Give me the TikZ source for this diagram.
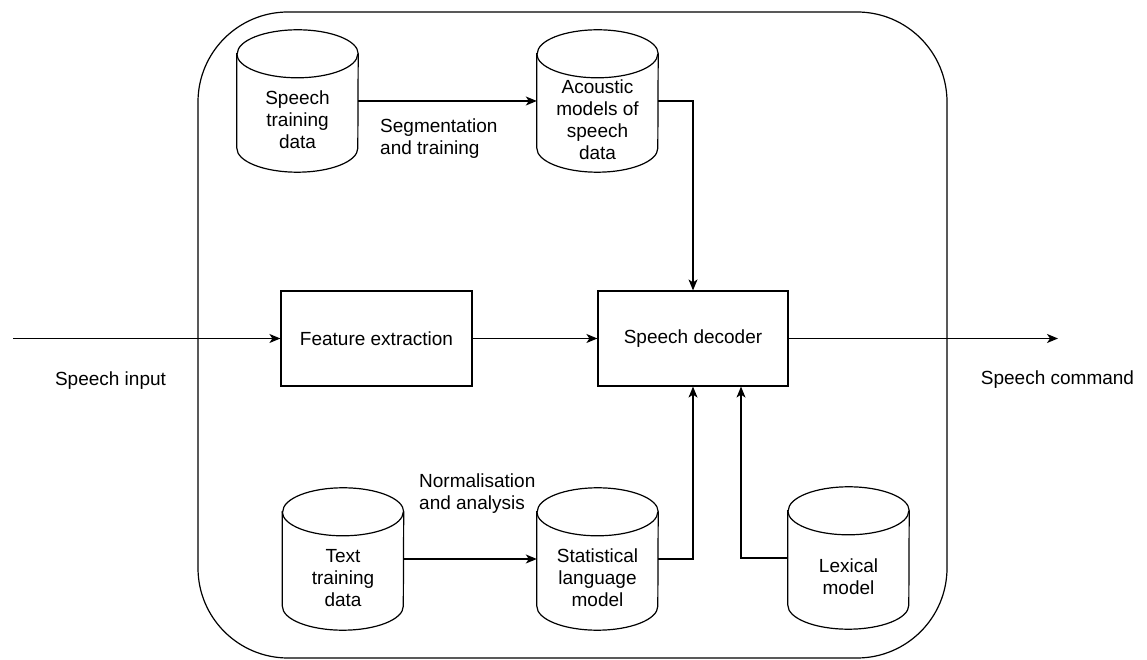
\documentclass[tikz,border=0pt]{standalone}
\usepackage{fontspec}
\setmainfont{Liberation Sans}
\usetikzlibrary{arrows.meta,calc}
\tikzset{
  ln/.style={line width=1.2pt, draw=black},
  arr/.style={ln, -{Stealth[length=11pt,width=9pt,inset=3pt]}},
  box/.style={ln, rectangle, minimum width=191pt, minimum height=95pt, font=\fontsize{19}{22}\selectfont, inner sep=0pt},
  cylspace/.style={rectangle, minimum width=121pt, minimum height=142pt, inner sep=0pt, draw=none},
  lbl/.style={font=\fontsize{19}{22}\selectfont, align=center, inner sep=0pt},
  lbll/.style={lbl, align=left},
}
\newcommand{\drawcyl}[1]{%
  \draw[ln, fill=white] ($(#1.north west)+(0,-24)$) -- ($(#1.south west)+(0,24)$)
     arc[start angle=180,end angle=360,x radius=60.5pt,y radius=24pt]
     -- ($(#1.north east)+(0,-24)$)
     arc[start angle=0,end angle=180,x radius=60.5pt,y radius=24pt] -- cycle;
  \draw[ln] ($(#1.north west)+(0,-24)$) arc[start angle=180,end angle=360,x radius=60.5pt,y radius=24pt];
}
\begin{document}
\begin{tikzpicture}[x=1pt,y=1pt]
\useasboundingbox (0,0) rectangle (1147,660);
\node[ln, rounded corners=90pt, minimum width=749pt, minimum height=646pt, inner sep=0pt] (frame) at (572.5,325) {};

\node[box] (fe) at (376.5,321.5) {Feature extraction};
\node[box, minimum width=190pt] (dec) at (693,321.5) {Speech decoder};

\node[cylspace] (st) at (297.5,559) {};
\node[cylspace] (ac) at (597.5,559) {};
\node[cylspace] (tt) at (343,101) {};
\node[cylspace] (sl) at (597.5,101) {};
\node[cylspace] (lx) at (848.5,102) {};
\drawcyl{st}
\drawcyl{ac}
\drawcyl{tt}
\drawcyl{sl}
\drawcyl{lx}

\node[lbl] (st-t) at ($(st.center)+(0,-19)$) {Speech\\training\\data};
\node[lbl] (ac-t) at ($(ac.center)+(0,-19)$) {Acoustic\\models of\\speech\\data};
\node[lbl] (tt-t) at ($(tt.center)+(0,-19)$) {Text\\training\\data};
\node[lbl] (sl-t) at ($(sl.center)+(0,-19)$) {Statistical\\language\\model};
\node[lbl] (lx-t) at ($(lx.center)+(0,-19)$) {Lexical\\model};

\coordinate (in) at (13,321.5);
\coordinate (out) at (1058,321.5);
\coordinate (lxin) at ($(dec.south)+(48,0)$);

\draw[arr] (st.east) -- (ac.west);
\draw[arr] (ac.east) -| (dec.north);
\draw[arr] (in) -- (fe.west);
\draw[arr] (fe.east) -- (dec.west);
\draw[arr] (dec.east) -- (out);
\draw[arr] (tt.east) -- (sl.west);
\draw[arr] (sl.east) -| (dec.south);
\draw[arr] (lx.west) -| (lxin);

\node[lbll, anchor=west] (seg) at (380,521) {Segmentation\\and training};
\node[lbll, anchor=west] (norm) at (419,166) {Normalisation\\and analysis};
\node[lbl] (sin) at (110.5,279) {Speech input};
\node[lbl] (scmd) at (1057.5,280) {Speech command};
\end{tikzpicture}
\end{document}
